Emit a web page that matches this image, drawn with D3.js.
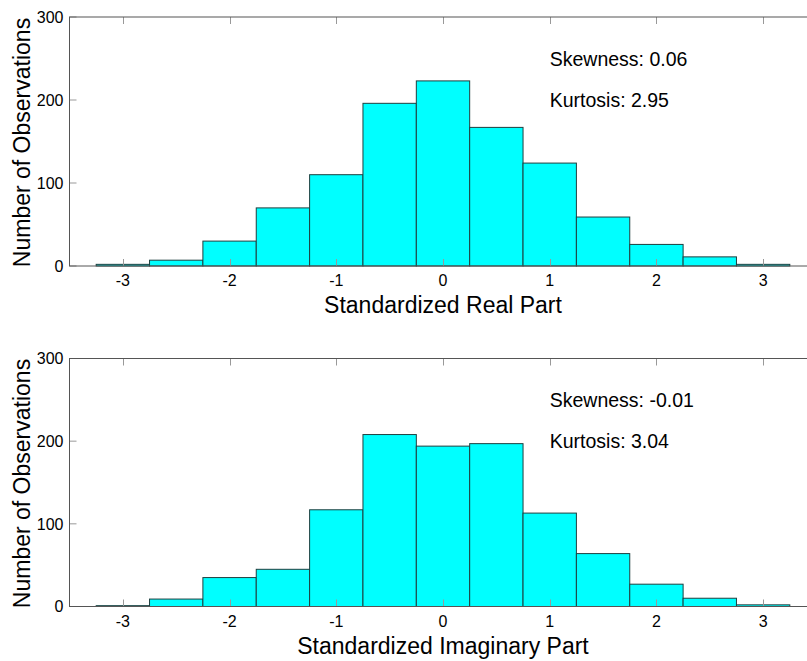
<!DOCTYPE html>
<html><head><meta charset="utf-8">
<script src="https://cdn.jsdelivr.net/npm/d3@7"></script>
<style>body{margin:0;background:#fff}svg{display:block}text{font-family:Arial,"Liberation Sans",sans-serif}</style>
</head><body><svg id="c" width="807" height="661"></svg>
<script>
const binCenters = [-3,-2.5,-2,-1.5,-1,-0.5,0,0.5,1,1.5,2,2.5,3];
const binWidth = 0.5;
const realCounts = [2,7,30,70,110,196,223,167,124,59,26,11,2];
const imagCounts = [1,9,35,45,117,208,194,197,113,64,27,10,2];
const xTicks = [-3,-2,-1,0,1,2,3];
const yTicks = [0,100,200,300];
const panels = [
  {counts: realCounts, xlabel: "Standardized Real Part", skew: "Skewness: 0.06", kurt: "Kurtosis: 2.95", top: 17, bottom: 266},
  {counts: imagCounts, xlabel: "Standardized Imaginary Part", skew: "Skewness: -0.01", kurt: "Kurtosis: 3.04", top: 358.5, bottom: 606.5}
];
const svg = d3.select("#c");
const left = 69.5, right = 816.5;
const x = d3.scaleLinear().domain([-3.5,3.5]).range([left,right]);
panels.forEach(p => {
  const y = d3.scaleLinear().domain([0,300]).range([p.bottom,p.top]);
  const g = svg.append("g");
  g.selectAll("rect.bar").data(binCenters).join("rect")
    .attr("x", d => x(d - binWidth/2))
    .attr("width", d => x(d + binWidth/2) - x(d - binWidth/2))
    .attr("y", (d,i) => y(p.counts[i]))
    .attr("height", (d,i) => y(0) - y(p.counts[i]))
    .attr("fill", "#00ffff").attr("stroke", "#1f3f3f").attr("stroke-width", 1);
  const tl = 7;
  xTicks.forEach(t => {
    const xx = Math.round(x(t)) + 0.5;
    g.append("line").attr("x1", xx).attr("x2", xx).attr("y1", p.bottom).attr("y2", p.bottom - tl).attr("stroke", "#999");
    g.append("line").attr("x1", xx).attr("x2", xx).attr("y1", p.top).attr("y2", p.top + tl).attr("stroke", "#999");
    g.append("text").attr("x", x(t)).attr("y", p.bottom + 20).attr("text-anchor", "middle")
      .attr("font-size", 16).attr("fill", "#000").text(t);
  });
  yTicks.forEach(t => {
    const yy = y(t);
    g.append("line").attr("x1", left).attr("x2", left + tl).attr("y1", yy).attr("y2", yy).attr("stroke", "#999");
    g.append("line").attr("x1", right).attr("x2", right - tl).attr("y1", yy).attr("y2", yy).attr("stroke", "#999");
    g.append("text").attr("x", 63.5).attr("y", yy).attr("dy", "0.36em").attr("text-anchor", "end")
      .attr("font-size", 16).attr("fill", "#000").text(t);
  });
  g.append("rect").attr("x", left).attr("y", p.top).attr("width", right - left).attr("height", p.bottom - p.top)
    .attr("fill", "none").attr("stroke", "#555").attr("stroke-width", 1);
  g.append("text").attr("x", (left + right) / 2).attr("y", p.bottom + 47).attr("text-anchor", "middle")
    .attr("font-size", 23).attr("fill", "#000").text(p.xlabel);
  g.append("text").attr("transform", `translate(29.5,${(p.top + p.bottom) / 2 + 1}) rotate(-90)`)
    .attr("text-anchor", "middle").attr("font-size", 23).attr("fill", "#000").text("Number of Observations");
  g.append("text").attr("x", x(1)).attr("y", y(250)).attr("dy", "0.36em").attr("font-size", 19.5).attr("fill", "#000").text(p.skew);
  g.append("text").attr("x", x(1)).attr("y", y(200)).attr("dy", "0.36em").attr("font-size", 19.5).attr("fill", "#000").text(p.kurt);
});
</script></body></html>
